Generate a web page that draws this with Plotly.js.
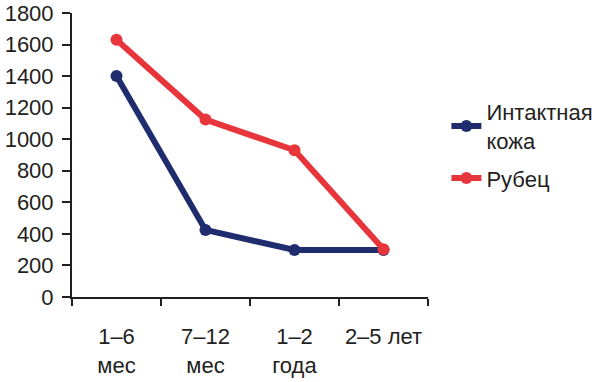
<!DOCTYPE html>
<html>
<head>
<meta charset="utf-8">
<script src="https://cdn.plot.ly/plotly-3.0.1.min.js"></script>
<style>html,body{margin:0;padding:0;background:#fff}#chart{width:600px;height:382px}</style>
</head>
<body>
<div id="chart"></div>
<script>
var categories = ["1–6<br>мес", "7–12<br>мес", "1–2<br>года", "2–5 лет"];
var seriesNames = ["Интактная<br>кожа", "Рубец"];
var intactSkin = [1400, 425, 298, 298];
var scar = [1630, 1125, 930, 302];
var yTicks = [0, 200, 400, 600, 800, 1000, 1200, 1400, 1600, 1800];

var font = {family: "Arial, 'Liberation Sans', sans-serif", size: 22, color: "#231f20"};

var traces = [
  {x: categories, y: intactSkin, name: seriesNames[0], legendgroup: "a", type: "scatter", mode: "lines+markers",
   line: {color: "#1f2d6e", width: 6}, marker: {color: "#1f2d6e", size: 12}},
  {x: categories, y: scar, name: seriesNames[1], legendgroup: "b", type: "scatter", mode: "lines+markers",
   line: {color: "#e8353c", width: 6}, marker: {color: "#e8353c", size: 12}}
];

var layout = {
  width: 600, height: 382,
  margin: {l: 72, r: 172, t: 13, b: 85, autoexpand: false},
  paper_bgcolor: "#fff", plot_bgcolor: "#fff",
  font: font,
  showlegend: true,
  legend: {xref: "container", yref: "container", x: 0.744, y: 0.762, xanchor: "left", yanchor: "top",
           font: font, tracegroupgap: 6, bgcolor: "rgba(0,0,0,0)"},
  xaxis: {
    type: "category", range: [-0.5, 3.5], automargin: false, tickangle: 0,
    showline: true, linecolor: "#231f20", linewidth: 2,
    ticks: "outside", ticklen: 7, tickwidth: 2, tickcolor: "#231f20",
    tickson: "boundaries", showgrid: false, zeroline: false,
    ticklabelstandoff: 19, tickfont: font
  },
  yaxis: {
    range: [0, 1800], tickvals: yTicks, ticktext: yTicks.map(String), automargin: false,
    showline: true, linecolor: "#231f20", linewidth: 2,
    ticks: "outside", ticklen: 8, tickwidth: 2, tickcolor: "#231f20",
    showgrid: false, zeroline: false, ticklabelstandoff: 4, tickfont: font
  }
};

Plotly.newPlot("chart", traces, layout, {displayModeBar: false, staticPlot: true});
</script>
</body>
</html>
